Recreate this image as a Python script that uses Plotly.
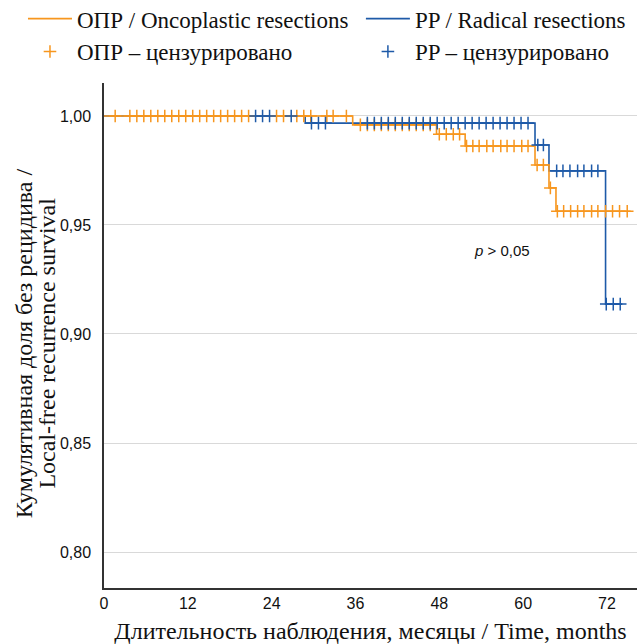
import plotly.graph_objects as go
import bisect

# ---- data ----
opr_times = [0, 35.6, 47.6, 51.7, 61.7, 63.7, 64.7, 75.4]
opr_surv = [1.0, 0.9959, 0.9916, 0.9862, 0.9775, 0.9670, 0.9563, 0.9563]
pp_times = [0, 28.8, 61.7, 63.7, 71.8, 74.2]
pp_surv = [1.0, 0.9967, 0.9867, 0.9748, 0.9137, 0.9137]

opr_censored = [1.6, 3.7, 4.7, 5.7, 6.7, 7.7, 8.7, 9.7, 10.7, 11.7, 12.7, 13.7, 14.7,
                15.7, 16.7, 17.7, 18.7, 19.7, 20.7, 24.7, 25.7, 27.6, 28.6, 29.6, 31.9,
                32.8, 34.7, 36.7, 37.7, 38.7, 39.7, 40.7, 41.7, 42.7, 43.7, 44.7, 45.7,
                46.7, 48.0, 49.0, 50.0, 50.9, 51.9, 52.8, 53.7, 54.8, 55.7, 56.8, 57.7,
                58.7, 59.8, 60.7, 62.0, 62.9, 63.9, 64.9, 65.8, 66.8, 67.8, 68.7, 69.8,
                70.7, 71.8, 72.8, 73.8, 74.9]
pp_censored = [21.7, 22.7, 23.7, 26.8, 29.7, 30.7, 31.7, 37.7, 38.7, 39.7, 40.7, 41.7,
               42.7, 43.7, 44.7, 45.7, 46.7, 47.7, 48.7, 49.7, 50.7, 51.7, 52.7, 53.7,
               54.7, 55.7, 56.7, 57.7, 58.7, 59.7, 60.7, 62.1, 62.9, 64.8, 65.7, 66.7,
               67.8, 68.7, 69.8, 70.7, 71.9, 72.9, 73.9]

x_ticks = [0, 12, 24, 36, 48, 60, 72]
y_ticks = [0.80, 0.85, 0.90, 0.95, 1.00]

ORANGE = "#F7961E"
BLUE = "#1E5AA8"
SERIF = "Liberation Serif, Times New Roman, DejaVu Serif, serif"


def step_value(times, surv, t):
    i = bisect.bisect_right(times, t) - 1
    return surv[max(i, 0)]


fig = go.Figure()

fig.add_trace(go.Scatter(x=pp_times, y=pp_surv, mode="lines", line_shape="hv",
                         line=dict(color=BLUE, width=1.6), legend="legend2",
                         legendrank=1, name="PP / Radical resections"))
fig.add_trace(go.Scatter(x=opr_times, y=opr_surv, mode="lines", line_shape="hv",
                         line=dict(color=ORANGE, width=1.6), legend="legend",
                         legendrank=1, name="ОПР / Oncoplastic resections"))
fig.add_trace(go.Scatter(x=opr_censored,
                         y=[step_value(opr_times, opr_surv, t) for t in opr_censored],
                         mode="markers", legend="legend", legendrank=2,
                         marker=dict(symbol="cross-thin", size=9,
                                     line=dict(color=ORANGE, width=1.5)),
                         name="ОПР – цензурировано"))
fig.add_trace(go.Scatter(x=pp_censored,
                         y=[step_value(pp_times, pp_surv, t) for t in pp_censored],
                         mode="markers", legend="legend2", legendrank=2,
                         marker=dict(symbol="cross-thin", size=9,
                                     line=dict(color=BLUE, width=1.5)),
                         name="PP – цензурировано"))

fig.add_annotation(x=57.0, y=0.9385, xref="x", yref="y", showarrow=False,
                   text="<i>p</i> > 0,05",
                   font=dict(family="Liberation Sans, Arial", size=15, color="#111"))

# y-axis title (two lines)
fig.add_annotation(x=-0.150, y=0.485, xref="paper", yref="paper", showarrow=False,
                   xanchor="center", yanchor="middle",
                   textangle=-90, text="Кумулятивная доля без рецидива /",
                   font=dict(family=SERIF, size=24, color="#111"))
fig.add_annotation(x=-0.106, y=0.485, xref="paper", yref="paper", showarrow=False,
                   xanchor="center", yanchor="middle",
                   textangle=-90, text="Local-free recurrence survival",
                   font=dict(family=SERIF, size=24, color="#111"))

tick_font = dict(family="Liberation Sans Narrow, Arial Narrow, Liberation Sans", size=16,
                 color="#111")
legend_font = dict(family=SERIF, size=23, color="#111")

fig.update_layout(
    width=637, height=644,
    margin=dict(l=104, r=0, t=83, b=56, autoexpand=False),
    paper_bgcolor="white", plot_bgcolor="white",
    separators=", ",
    showlegend=True,
    legend=dict(orientation="v", x=-0.152, xanchor="left", y=1.17, yanchor="top",
                itemwidth=44, font=legend_font, bgcolor="rgba(0,0,0,0)",
                tracegroupgap=0, traceorder="normal"),
    legend2=dict(orientation="v", x=0.482, xanchor="left", y=1.17, yanchor="top",
                 itemwidth=44, font=legend_font, bgcolor="rgba(0,0,0,0)",
                 tracegroupgap=0, traceorder="normal"),
    xaxis=dict(range=[0, 76.3], tickvals=x_ticks, ticktext=[str(v) for v in x_ticks],
               showgrid=False, zeroline=False, showline=True, linecolor="#333",
               linewidth=1.5, ticks="", tickfont=tick_font,
               title=dict(text="Длительность наблюдения, месяцы / Time, months",
                          font=dict(family=SERIF, size=24, color="#111"), standoff=12)),
    yaxis=dict(range=[0.7835, 1.0151], tickvals=y_ticks, tickformat=".2f",
               showgrid=True, gridcolor="#D9D9D9", gridwidth=1, zeroline=False,
               showline=True, linecolor="#333", linewidth=1.5, ticks="",
               ticklabelstandoff=8, tickfont=tick_font),
)

fig.write_html("out.html", config={"displayModeBar": False},
               post_script="document.body.style.margin='0';document.body.style.overflow='hidden';")
